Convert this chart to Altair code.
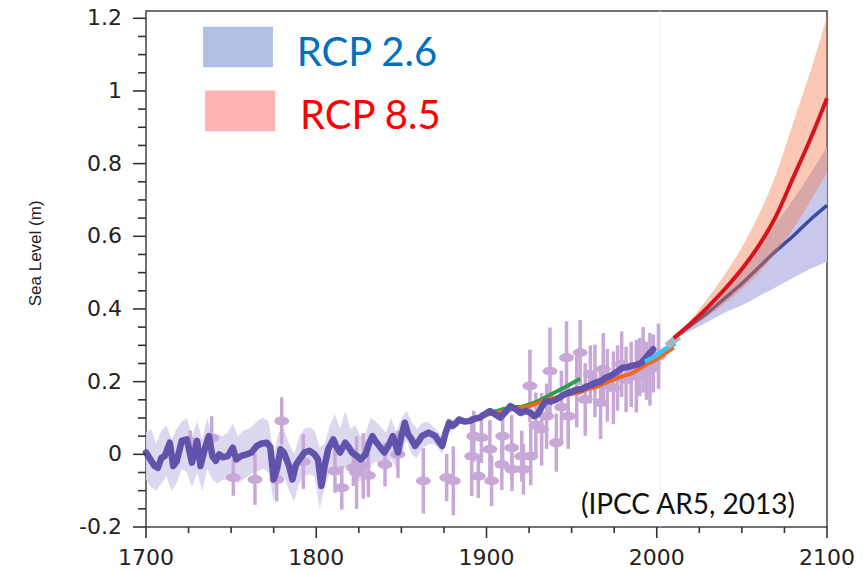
import altair as alt
import pandas as pd

# ---------------- data ----------------
recon_years = [1700, 1702, 1705, 1707, 1709, 1711, 1714, 1716, 1718, 1721, 1724, 1727, 1730, 1732,
               1735, 1737, 1739, 1741, 1743, 1745, 1748, 1751, 1753, 1756, 1759, 1762, 1765, 1768,
               1771, 1773, 1775, 1777, 1779, 1781, 1784, 1786, 1788, 1790, 1793, 1796, 1799, 1801,
               1803, 1805, 1807, 1810, 1812, 1814, 1817, 1819, 1821, 1824, 1826, 1829, 1831, 1833,
               1835, 1837, 1840, 1842, 1845, 1848, 1850, 1852, 1854, 1856, 1858, 1860, 1862, 1864,
               1866, 1868, 1870, 1872, 1874, 1876, 1878, 1880, 1882, 1884, 1887, 1890, 1893, 1896,
               1899, 1902, 1905, 1908, 1911, 1914, 1917, 1920, 1923, 1926, 1928, 1930, 1933, 1935,
               1938, 1941, 1944, 1947, 1950, 1953, 1956, 1958, 1961, 1964, 1967, 1970, 1973, 1976,
               1978, 1980, 1983, 1985, 1988, 1991, 1993, 1996, 1998]
recon_vals = [0.005, -0.01, -0.032, -0.037, -0.01, -0.005, 0.032, -0.032, -0.02, 0.037, 0.041, -0.023,
              0.037, -0.032, 0.023, 0.05, -0.005, -0.018, 0.0, -0.008, -0.005, 0.018, -0.014, -0.004,
              0.0, 0.005, 0.023, 0.03, 0.032, 0.02, -0.069, -0.04, 0.014, 0.005, -0.032, -0.069,
              -0.03, -0.015, 0.005, 0.01, 0.0, -0.014, -0.087, -0.03, 0.014, 0.041, 0.02, 0.005,
              0.032, 0.02, 0.005, -0.005, -0.014, 0.0, 0.03, 0.05, 0.035, 0.023, 0.005, 0.02, 0.05,
              0.005, 0.05, 0.087, 0.055, 0.041, 0.023, 0.035, 0.05, 0.055, 0.06, 0.055, 0.05, 0.035,
              0.023, 0.06, 0.087, 0.078, 0.085, 0.096, 0.09, 0.092, 0.098, 0.101, 0.11, 0.119, 0.11,
              0.101, 0.115, 0.133, 0.125, 0.114, 0.12, 0.114, 0.105, 0.11, 0.135, 0.147, 0.145, 0.151,
              0.16, 0.168, 0.172, 0.178, 0.18, 0.185, 0.19, 0.197, 0.2, 0.211, 0.216, 0.225, 0.232,
              0.238, 0.24, 0.243, 0.246, 0.252, 0.262, 0.279, 0.289]

band_years = [1700, 1703, 1706, 1709, 1712, 1715, 1718, 1721, 1724, 1727, 1730, 1733, 1736, 1739,
              1742, 1745, 1748, 1751, 1754, 1757, 1760, 1763, 1766, 1769, 1772, 1775, 1778, 1781,
              1784, 1787, 1790, 1793, 1796, 1799, 1802, 1805, 1808, 1811, 1814, 1817, 1820, 1823,
              1826, 1829, 1832, 1835, 1838, 1841, 1844, 1847, 1850, 1853, 1856, 1859, 1862, 1865,
              1868, 1871, 1874, 1877, 1880, 1884]
band_upper = [0.06, 0.07, 0.03, 0.065, 0.08, 0.04, 0.07, 0.09, 0.10, 0.05, 0.09, 0.04, 0.10, 0.05,
              0.055, 0.05, 0.06, 0.085, 0.05, 0.065, 0.07, 0.08, 0.095, 0.10, 0.09, 0.0, 0.06, 0.07,
              0.03, 0.0, 0.05, 0.07, 0.075, 0.065, 0.02, 0.03, 0.08, 0.11, 0.07, 0.12, 0.07, 0.08,
              0.05, 0.06, 0.10, 0.09, 0.075, 0.06, 0.10, 0.06, 0.10, 0.12, 0.09, 0.07, 0.085, 0.09,
              0.08, 0.065, 0.05, 0.10, 0.095, 0.105]
band_lower = [-0.07, -0.09, -0.10, -0.08, -0.06, -0.10, -0.08, -0.04, -0.05, -0.09, -0.05, -0.10,
              -0.04, -0.07, -0.08, -0.07, -0.07, -0.05, -0.08, -0.07, -0.06, -0.05, -0.045, -0.04,
              -0.05, -0.13, -0.08, -0.06, -0.10, -0.13, -0.08, -0.06, -0.055, -0.06, -0.15, -0.09,
              -0.05, -0.03, -0.06, -0.035, -0.05, -0.07, -0.075, -0.06, -0.03, -0.02, -0.03, -0.05,
              -0.01, -0.04, 0.0, 0.04, 0.0, -0.01, 0.015, 0.025, 0.03, 0.02, 0.0, 0.06, 0.065, 0.085]

proxy_years = [1726, 1738.6, 1751.3, 1764, 1776.8, 1779.7, 1792.4, 1811, 1815, 1821.8, 1823.7,
               1827.6, 1830.6, 1840.4, 1848, 1862.9, 1876.6, 1880.5, 1891.3, 1892.5, 1895.2, 1897,
               1902, 1903, 1909, 1909.5, 1914.8, 1915, 1920.7, 1921.7, 1925.5, 1926, 1929, 1932.4,
               1935.3, 1937.3, 1941, 1944, 1947, 1948, 1953, 1955, 1958, 1961, 1963.7, 1967, 1968.6,
               1971, 1974.5, 1977, 1979.4, 1982, 1985, 1988, 1990, 1992, 1994, 1996, 1998, 2001]
proxy_vals = [0.035, 0.045, -0.064, -0.069, -0.069, 0.092, -0.02, -0.046, -0.092, -0.037, -0.05,
              -0.032, -0.058, -0.028, 0.0, -0.073, -0.064, -0.073, -0.005, 0.05, -0.06, 0.046,
              0.014, -0.073, -0.028, 0.05, 0.018, -0.041, -0.005, -0.041, 0.188, -0.005, 0.08, 0.069,
              0.105, 0.229, 0.032, 0.13, 0.266, 0.105, 0.174, 0.28, 0.151, 0.22, 0.202, 0.142, 0.234,
              0.19, 0.183, 0.21, 0.248, 0.206, 0.22, 0.215, 0.24, 0.26, 0.23, 0.234, 0.25, 0.27]
proxy_err = [0.03, 0.06, 0.05, 0.07, 0.06, 0.065, 0.075, 0.06, 0.06, 0.05, 0.10, 0.09, 0.06, 0.06,
             0.065, 0.09, 0.065, 0.095, 0.11, 0.07, 0.06, 0.07, 0.08, 0.07, 0.07, 0.08, 0.09, 0.06,
             0.07, 0.07, 0.10, 0.08, 0.09, 0.10, 0.09, 0.12, 0.08, 0.10, 0.10, 0.09, 0.10, 0.09, 0.10,
             0.08, 0.10, 0.10, 0.10, 0.10, 0.10, 0.09, 0.09, 0.09, 0.09, 0.10, 0.08, 0.09, 0.08, 0.10,
             0.08, 0.09]

green_years = [1900, 1905, 1910, 1915, 1920, 1925, 1930, 1935, 1940, 1945, 1950, 1955]
green_vals = [0.112, 0.118, 0.124, 0.13, 0.13, 0.137, 0.146, 0.158, 0.17, 0.182, 0.195, 0.208]

orange_years = [1880, 1885, 1890, 1895, 1900, 1905, 1910, 1915, 1920, 1925, 1930, 1935, 1940, 1945,
                1950, 1955, 1960, 1965, 1970, 1975, 1980, 1985, 1990, 1995, 2000, 2005, 2010]
orange_vals = [0.085, 0.09, 0.088, 0.10, 0.108, 0.114, 0.118, 0.124, 0.128, 0.133, 0.14, 0.151, 0.155,
               0.162, 0.166, 0.172, 0.18, 0.186, 0.197, 0.206, 0.215, 0.222, 0.236, 0.25, 0.262,
               0.278, 0.294]

cyan_years = [1993, 1996, 1999, 2002, 2005, 2008, 2011]
cyan_vals = [0.255, 0.262, 0.27, 0.28, 0.29, 0.298, 0.305]

grey_years = [2006, 2013]
grey_vals = [0.298, 0.325]

proj_years = [2010, 2020, 2030, 2040, 2050, 2060, 2070, 2080, 2090, 2100]
rcp26_mid = [0.32, 0.355, 0.39, 0.43, 0.47, 0.515, 0.56, 0.60, 0.645, 0.685]
rcp26_low = [0.315, 0.34, 0.365, 0.39, 0.41, 0.435, 0.46, 0.485, 0.51, 0.53]
rcp26_high = [0.325, 0.365, 0.41, 0.46, 0.515, 0.575, 0.635, 0.70, 0.77, 0.847]
rcp85_mid = [0.32, 0.36, 0.405, 0.455, 0.51, 0.575, 0.655, 0.76, 0.865, 0.98]
rcp85_low = [0.315, 0.35, 0.38, 0.415, 0.455, 0.50, 0.555, 0.62, 0.695, 0.776]
rcp85_high = [0.325, 0.37, 0.43, 0.495, 0.57, 0.66, 0.77, 0.91, 1.05, 1.205]

x_major_ticks = [1700, 1800, 1900, 2000, 2100]
x_tick_labels = ["1700", "1800", "1900", "2000", "2100"]
x_minor_ticks = [1725, 1750, 1775, 1825, 1850, 1875, 1925, 1950, 1975, 2025, 2050, 2075]
y_major_ticks = [-0.2, 0, 0.2, 0.4, 0.6, 0.8, 1, 1.2]
y_tick_labels = ["-0.2", "0", "0.2", "0.4", "0.6", "0.8", "1", "1.2"]
y_minor_ticks = [-0.15, -0.1, -0.05, 0.05, 0.1, 0.15, 0.25, 0.3, 0.35, 0.45, 0.5, 0.55, 0.65, 0.7,
                 0.75, 0.85, 0.9, 0.95, 1.05, 1.1, 1.15]

legend_labels = ["RCP 2.6", "RCP 8.5"]
source_label = "(IPCC AR5, 2013)"
y_title = "Sea Level (m)"

# ---------------- frames ----------------
recon = pd.DataFrame({"year": recon_years, "val": recon_vals})
band = pd.DataFrame({"year": band_years, "hi": band_upper, "lo": band_lower})
proxy = pd.DataFrame({"year": proxy_years, "val": proxy_vals, "err": proxy_err})
green = pd.DataFrame({"year": green_years, "val": green_vals})
orange = pd.DataFrame({"year": orange_years, "val": orange_vals})
cyan = pd.DataFrame({"year": cyan_years, "val": cyan_vals})
grey = pd.DataFrame({"year": grey_years, "val": grey_vals})
proj = pd.DataFrame({"year": proj_years, "r26": rcp26_mid, "r26lo": rcp26_low, "r26hi": rcp26_high,
                     "r85": rcp85_mid, "r85lo": rcp85_low, "r85hi": rcp85_high})
leg = pd.DataFrame({"x": [1733.5, 1734.7], "x2": [1774.6, 1775.8], "y": [1.065, 0.889],
                    "y2": [1.177, 1.001], "c": ["#b1c1e5", "#ffb3b3"]})
leg_text = pd.DataFrame({"year": [1788.5, 1790.5], "val": [1.068, 0.894], "t": legend_labels,
                         "c": ["#0070c0", "#ff0000"]})
src = pd.DataFrame({"year": [2081.2], "val": [-0.165], "t": [source_label]})
ytitle = pd.DataFrame({"year": [1635.4], "val": [0.553], "t": [y_title]})
vline = pd.DataFrame({"year": [2002], "lo": [-0.2], "hi": [1.22]})
xt_major = pd.DataFrame({"year": x_major_ticks, "t": x_tick_labels})
xt_minor = pd.DataFrame({"year": x_minor_ticks})
yt_major = pd.DataFrame({"val": y_major_ticks, "t": y_tick_labels})
yt_minor = pd.DataFrame({"val": y_minor_ticks})

xs = alt.Scale(domain=[1700, 2100], nice=False, zero=False)
ys = alt.Scale(domain=[-0.2, 1.22], nice=False, zero=False)

X = alt.X("year:Q", scale=xs, axis=None)


def Y(f):
    return alt.Y(f, scale=ys, axis=None)


# axis ticks and labels drawn as marks positioned through the shared scales
tick_style = dict(color="#333", strokeWidth=1.6)
xt_maj_l = alt.Chart(xt_major).mark_rule(**tick_style).encode(X, y=alt.value(516), y2=alt.value(527))
xt_min_l = alt.Chart(xt_minor).mark_rule(**tick_style).encode(X, y=alt.value(516), y2=alt.value(522))
yt_maj_l = alt.Chart(yt_major).mark_rule(**tick_style).encode(Y("val:Q"), x=alt.value(0), x2=alt.value(-13))
yt_min_l = alt.Chart(yt_minor).mark_rule(**tick_style).encode(Y("val:Q"), x=alt.value(0), x2=alt.value(-8))
xt_lab = alt.Chart(xt_major).mark_text(align="center", baseline="alphabetic", font="DejaVu Sans",
                                       fontSize=22, color="#222").encode(X, y=alt.value(554), text="t:N")
yt_lab = alt.Chart(yt_major).mark_text(align="right", baseline="middle", font="DejaVu Sans",
                                       fontSize=22, color="#222").encode(Y("val:Q"), x=alt.value(-24), text="t:N")

vrule = alt.Chart(vline).mark_rule(color="#ececec", strokeWidth=1).encode(X, Y("lo:Q"), y2="hi:Q")

band_l = alt.Chart(band).mark_area(color="#d9d3ee", opacity=0.9, interpolate="linear").encode(
    X, Y("lo:Q"), y2="hi:Q")

ellipse = "M-1,0A1,0.6,0,1,0,1,0A1,0.6,0,1,0,-1,0Z"
err_l = alt.Chart(proxy).transform_calculate(
    lo="datum.val - datum.err", hi="datum.val + datum.err"
).mark_rule(color="#c7a8d6", strokeWidth=3.5).encode(X, Y("lo:Q"), y2="hi:Q")
dot_l = alt.Chart(proxy).mark_point(shape=ellipse, size=220, filled=True, color="#c7a8d6",
                                    opacity=1).encode(X, Y("val:Q"))

green_l = alt.Chart(green).mark_line(color="#2e9e48", strokeWidth=4, strokeJoin="round").encode(X, Y("val:Q"))
orange_l = alt.Chart(orange).mark_line(color="#f06818", strokeWidth=4, strokeJoin="round").encode(X, Y("val:Q"))
recon_l = alt.Chart(recon).mark_line(color="#6152ab", strokeWidth=6.5, strokeJoin="round",
                                     strokeCap="round").encode(X, Y("val:Q"))
cyan_l = alt.Chart(cyan).mark_line(color="#3ec3f0", strokeWidth=4.5).encode(X, Y("val:Q"))
grey_l = alt.Chart(grey).mark_line(color="#a3b6bd", strokeWidth=7).encode(X, Y("val:Q"))

b26 = alt.Chart(proj).mark_area(color="#c8c8ec", interpolate="monotone").encode(X, Y("r26lo:Q"), y2="r26hi:Q")
l26 = alt.Chart(proj).mark_line(color="#3b4ba3", strokeWidth=3.5, interpolate="monotone").encode(X, Y("r26:Q"))
b85 = alt.Chart(proj).mark_area(color="#f27644", opacity=0.4, interpolate="monotone").encode(X, Y("r85lo:Q"), y2="r85hi:Q")
l85 = alt.Chart(proj).mark_line(color="#d7141e", strokeWidth=4, interpolate="monotone").encode(X, Y("r85:Q"))

leg_rect = alt.Chart(leg).mark_rect().encode(
    alt.X("x:Q", scale=xs, axis=None), x2="x2:Q", y=Y("y:Q"), y2="y2:Q",
    color=alt.Color("c:N", scale=None))
leg_txt = alt.Chart(leg_text).mark_text(align="left", baseline="alphabetic", font="Lato",
                                        fontSize=40).encode(X, Y("val:Q"), text="t:N",
                                                            color=alt.Color("c:N", scale=None))
src_txt = alt.Chart(src).mark_text(align="right", baseline="alphabetic", font="Lato", fontSize=28,
                                   color="#111").encode(X, Y("val:Q"), text="t:N")
ytitle_txt = alt.Chart(ytitle).mark_text(align="center", baseline="middle", font="Liberation Sans",
                                         fontSize=17, angle=270, color="#222").encode(
    X, Y("val:Q"), text="t:N")

chart = alt.layer(
    vrule, band_l, err_l, dot_l, green_l, orange_l, recon_l, cyan_l, grey_l,
    b26, l26, b85, l85, leg_rect, leg_txt, src_txt, ytitle_txt, xt_lab, yt_lab,
    xt_maj_l, xt_min_l, yt_maj_l, yt_min_l
).properties(
    width=681, height=516,
    padding={"left": 146, "top": 11, "right": 36, "bottom": 45},
    autosize=alt.AutoSizeParams(type="none"),
    background="white",
).configure_view(stroke="#444", strokeWidth=1.5)

chart.save("out.html", embed_options={"renderer": "svg", "actions": False})
